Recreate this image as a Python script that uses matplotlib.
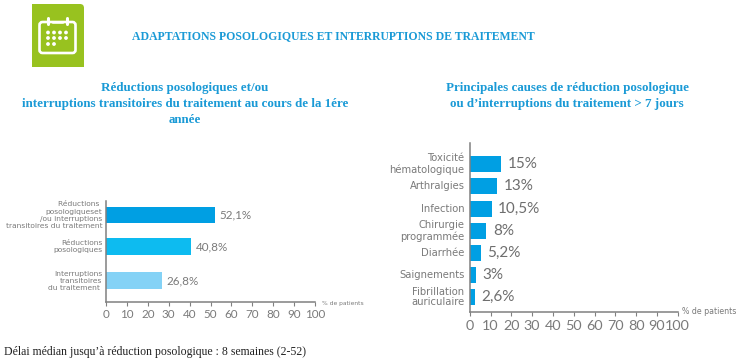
import matplotlib
matplotlib.use('Agg')
import matplotlib.pyplot as plt
from matplotlib.patches import FancyBboxPatch, Circle, Rectangle

left_labels = ["Réductions \nposologiqueset\n/ou interruptions\ntransitoires du traitement",
               "Réductions\nposologiques",
               "Interruptions\ntransitoires\ndu traitement "]
left_values = [52.1, 40.8, 26.8]
left_text = ["52,1%", "40,8%", "26,8%"]
left_colors = ['#009fe3', '#0dbbf0', '#84d2f6']

right_labels = ["Toxicité\nhématologique", "Arthralgies", "Infection", "Chirurgie\nprogrammée",
                "Diarrhée", "Saignements", "Fibrillation\nauriculaire"]
right_values = [15, 13, 10.5, 8, 5.2, 3, 2.6]
right_text = ["15%", "13%", "10,5%", "8%", "5,2%", "3%", "2,6%"]

ticks = list(range(0, 101, 10))
W, H = 750, 364
sans = 'DejaVu Sans'
narrow = 'Lato'
serif = 'Liberation Serif'
blue = '#1a9ad6'
grey = '#7a7a7a'
green = '#98c21f'

fig = plt.figure(figsize=(7.5, 3.64), dpi=100)

def make_axes(x0, x1, top, bottom):
    return fig.add_axes([x0 / W, 1 - bottom / H, (x1 - x0) / W, (bottom - top) / H])

def style(ax, tick_size, pad):
    ax.set_xlim(0, 100)
    ax.set_ylim(1, 0)
    ax.set_xticks(ticks)
    ax.set_yticks([])
    for s in ['top', 'right']:
        ax.spines[s].set_visible(False)
    for s in ['left', 'bottom']:
        ax.spines[s].set_color('#808080')
        ax.spines[s].set_linewidth(1.1)
    ax.tick_params(axis='x', length=3, width=0.8, color='#808080', labelcolor=grey,
                   labelsize=tick_size, pad=pad)
    for t in ax.get_xticklabels():
        t.set_family(narrow)
    ax.patch.set_alpha(0)

# graphique de gauche
ax1 = make_axes(106, 315, 201, 302)
style(ax1, 8.4, 1.8)
y1 = [0.14, 0.45, 0.79]
ax1.barh(y1, left_values, height=0.165, color=left_colors)
for y, v, lab, txt in zip(y1, left_values, left_labels, left_text):
    ax1.text(-1.8, y, lab, ha='right', va='center', fontsize=5.4, color=grey,
             family=sans, linespacing=1.22, multialignment='right')
    ax1.text(v + 2.3, y, txt, ha='left', va='center', fontsize=8.4, color=grey, family=narrow)

# graphique de droite
ax2 = make_axes(469.7, 677.7, 143, 312)
style(ax2, 10.4, 3)
y2 = [0.125, 0.256, 0.391, 0.521, 0.651, 0.781, 0.911]
ax2.barh(y2, right_values, height=0.097, color='#009fe3')
for y, v, lab, txt in zip(y2, right_values, right_labels, right_text):
    ax2.text(-2.5, y, lab, ha='right', va='center', fontsize=7.2, color=grey,
             family=sans, linespacing=1.1, multialignment='right')
    ax2.text(v + 3.2, y, txt, ha='left', va='center', fontsize=11, color='#6e6e6e', family=narrow)

# calque en pixels pour les titres et l'icone
bg = fig.add_axes([0, 0, 1, 1])
bg.set_xlim(0, W)
bg.set_ylim(H, 0)
bg.axis('off')
bg.patch.set_alpha(0)

bg.text(333.5, 36.5, "ADAPTATIONS POSOLOGIQUES ET INTERRUPTIONS DE TRAITEMENT", ha='center', va='center',
        fontsize=8.47, fontweight='bold', color=blue, family=serif)
bg.text(185, 87.5, "Réductions posologiques et/ou", ha='center', va='center',
        fontsize=9.4, fontweight='bold', color=blue, family=serif)
bg.text(185, 104, "interruptions transitoires du traitement au cours de la 1ére", ha='center', va='center',
        fontsize=9.4, fontweight='bold', color=blue, family=serif)
bg.text(185, 120, "année", ha='center', va='center',
        fontsize=9.4, fontweight='bold', color=blue, family=serif)
bg.text(567, 87.5, "Principales causes de réduction posologique", ha='center', va='center',
        fontsize=9.4, fontweight='bold', color=blue, family=serif)
bg.text(567, 104, "ou d’interruptions du traitement > 7 jours", ha='center', va='center',
        fontsize=9.4, fontweight='bold', color=blue, family=serif)
bg.text(4, 352, "Délai médian jusqu’à réduction posologique : 8 semaines (2-52)", ha='left', va='center',
        fontsize=8.5, color='#222222', family=serif)
bg.text(322, 303, "% de patients", ha='left', va='center', fontsize=4.35, color=grey, family=sans)
bg.text(682, 311.5, "% de patients", ha='left', va='center', fontsize=5.7, color=grey, family=sans)

# icone calendrier
bg.add_patch(FancyBboxPatch((32, 4), 52, 63, boxstyle='round,pad=0,rounding_size=4',
                            fc=green, ec='none'))
bg.add_patch(Rectangle((32, 4), 10, 10, fc=green, ec='none'))
bg.add_patch(Rectangle((32, 57), 10, 10, fc=green, ec='none'))
bg.add_patch(Rectangle((74, 57), 10, 10, fc=green, ec='none'))
bg.add_patch(FancyBboxPatch((39.5, 22), 36, 31, boxstyle='round,pad=0,rounding_size=3',
                            fc='none', ec='white', lw=1.9))
for x in [48, 67]:
    bg.plot([x, x], [17.5, 24], color='white', lw=2.2, solid_capstyle='round')
bg.plot([53, 62], [22, 22], color='white', lw=1.8)
for row, y in enumerate([32.5, 38, 44]):
    xs = [48, 54, 60, 66] if row < 2 else [48, 54]
    for x in xs:
        bg.add_patch(Circle((x, y), 1.9, fc='white', ec='none'))

fig.savefig('out.png', dpi=100, facecolor='white')
